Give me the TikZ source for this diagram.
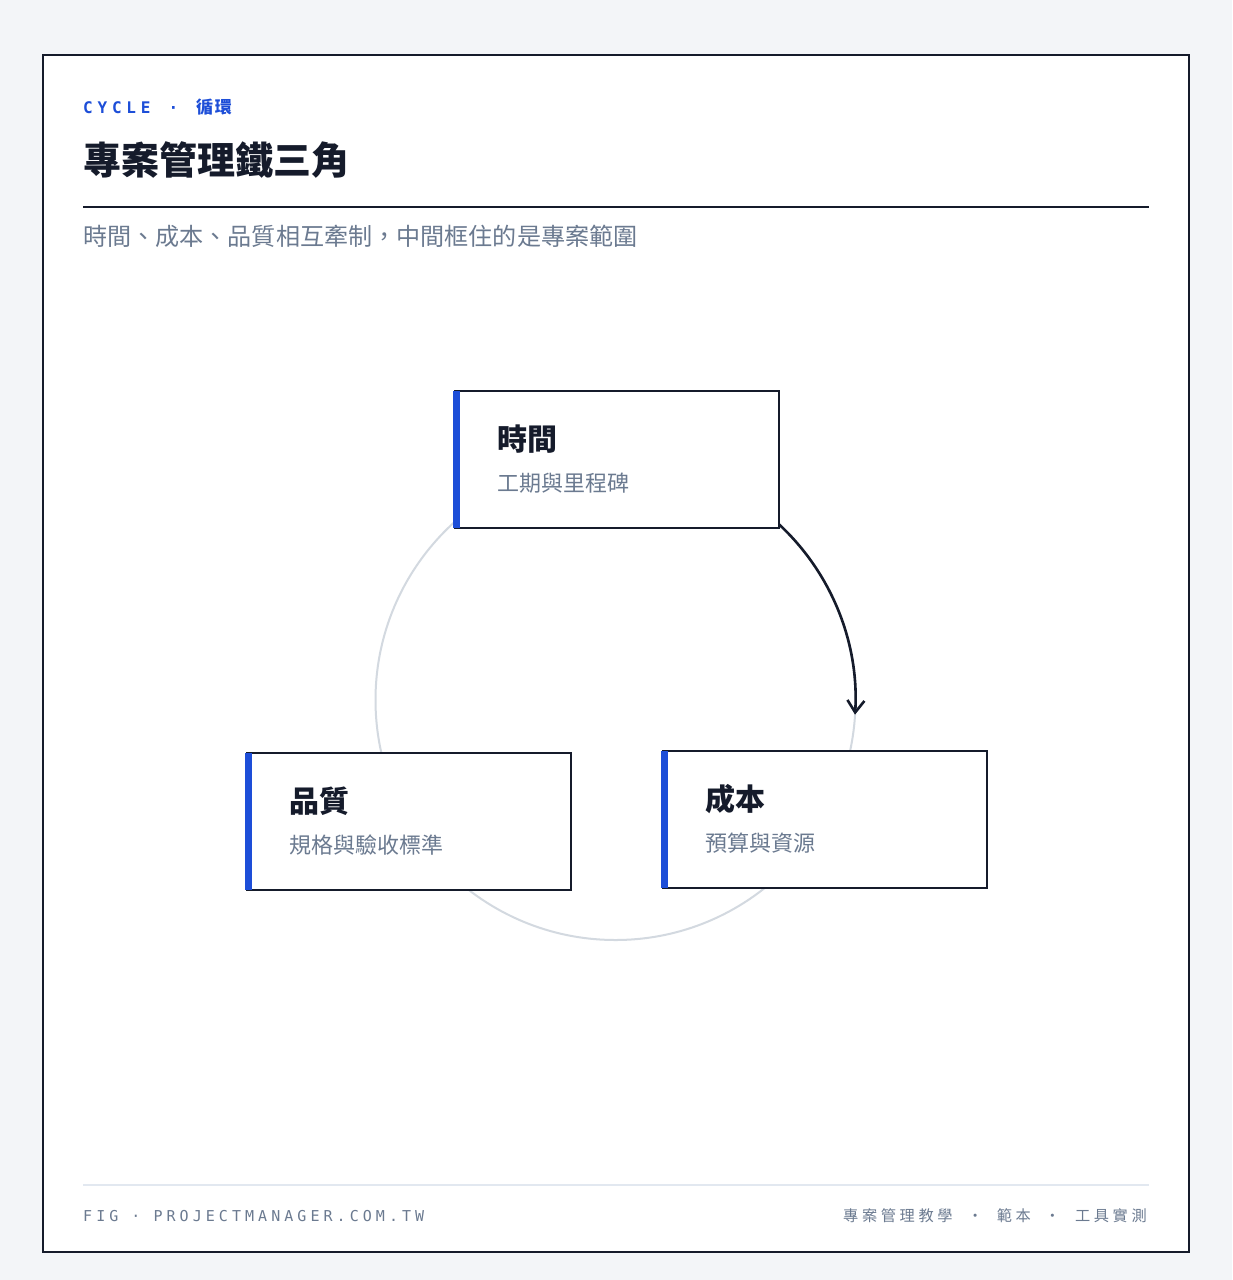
\documentclass[tikz,border=0pt]{standalone}
\usepackage{fontspec}
\setmainfont{Noto Sans CJK TC}
\newfontfamily\cjk{Noto Sans CJK TC}
\newfontfamily\cjktrk{Noto Sans CJK TC}[LetterSpace=24]
\newfontfamily\monotrk{DejaVu Sans Mono}[LetterSpace=27]
\newfontfamily\monotrkc{DejaVu Sans Mono}[LetterSpace=30]
\newfontfamily\cjktrkc{Noto Sans CJK TC}[LetterSpace=10]
\usetikzlibrary{arrows.meta,calc}
\definecolor{bgc}{HTML}{F3F5F8}
\definecolor{ink}{HTML}{151B2B}
\definecolor{accent}{HTML}{1D4ED8}
\definecolor{muted}{HTML}{6B7A90}
\definecolor{ring}{HTML}{D3D9E0}
\definecolor{softrule}{HTML}{E2E8F0}
\tikzset{
  card/.style={draw=ink, line width=2pt, fill=white, minimum width=324pt, minimum height=137pt, inner sep=0pt, anchor=north west},
  cardtitle/.style={anchor=west, inner sep=0pt, text=ink, font=\cjk\bfseries\fontsize{30}{35}\selectfont},
  cardsub/.style={anchor=west, inner sep=0pt, text=muted, font=\cjk\fontsize{22}{26}\selectfont},
  accentbar/.style={fill=accent},
  flow/.style={draw=ink, line width=2.6pt, -{Straight Barb[length=12pt,width=17pt,line width=2.6pt]}},
  txt/.style={anchor=west, inner sep=0pt},
}
\begin{document}
\begin{tikzpicture}[x=1pt,y=-1pt]
\useasboundingbox (0,0) rectangle (1232,1280);
\fill[bgc] (0,0) rectangle (1232,1280);
% frame
\draw[ink, line width=1.6pt, fill=white] (43,55) rectangle (1189,1252);
% header
\node[txt, text=accent] (kicker) at (83,107) {\monotrkc\bfseries\fontsize{16}{18}\selectfont CYCLE\hspace{18pt}·\hspace{18pt}{\cjktrkc\fontsize{17}{18}\selectfont 循環}};
\node[txt, text=ink, font=\cjk\bfseries\fontsize{38}{44}\selectfont] (title) at (83,160) {專案管理鐵三角};
\draw[ink, line width=2pt] (83,207) -- (1149,207);
\node[txt, text=muted, font=\cjk\fontsize{24.1}{28}\selectfont] (subtitle) at (83,236) {時間、成本、品質相互牽制，中間框住的是專案範圍};
% ring
\coordinate (c) at (615.5,700);
\draw[ring, line width=2pt] (c) circle[radius=240];
% cards
\node[card] (time) at (454,390) {};
\node[card] (quality) at (246,752) {};
\node[card] (cost) at (662,750) {};
\foreach \n in {time,quality,cost}{
  \fill[accentbar] ($(\n.north west)+(-1,1)$) rectangle ($(\n.south west)+(6,-1)$);
}
\node[cardtitle] (timeT) at ($(time.north west)+(43,49)$) {時間};
\node[cardsub] (timeS) at ($(time.north west)+(43,93)$) {工期與里程碑};
\node[cardtitle] (qualT) at ($(quality.north west)+(43,49)$) {品質};
\node[cardsub] (qualS) at ($(quality.north west)+(43,93)$) {規格與驗收標準};
\node[cardtitle] (costT) at ($(cost.north west)+(43,49)$) {成本};
\node[cardsub] (costS) at ($(cost.north west)+(43,93)$) {預算與資源};
% arrow along ring
\coordinate (arrowstart) at ($(c)+(-47:240)$);
\coordinate (arrowend) at ($(c)+(3.5:240)$);
\draw[flow] (arrowstart) arc[start angle=-47, end angle=3.5, radius=240];
% footer
\draw[softrule, line width=1.5pt] (83,1185) -- (1149,1185);
\node[txt, text=muted] (footL) at (83,1216) {\monotrk\fontsize{15}{18}\selectfont FIG\ ·\ PROJECTMANAGER.COM.TW};
\node[anchor=east, inner sep=0pt, text=muted] (footR) at (1147,1216) {\cjktrk\fontsize{15.2}{18}\selectfont 專案管理教學\hspace{15pt}·\hspace{14pt}範本\hspace{14pt}·\hspace{15pt}工具實測};
\end{tikzpicture}
\end{document}
